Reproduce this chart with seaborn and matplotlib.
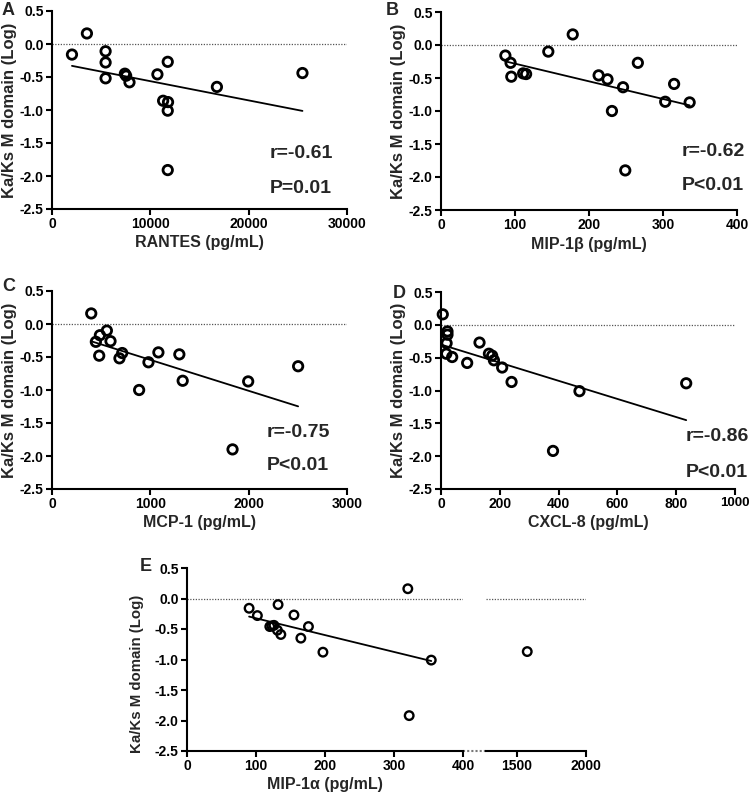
import numpy as np
import pandas as pd
import matplotlib
matplotlib.use("Agg")
import matplotlib.pyplot as plt
import seaborn as sns

# values (x in pg/mL, y = log Ka/Ks of M domain)
rantes = [2030, 3550, 5450, 5450, 5450, 7410, 7540, 7880, 10720, 11770, 11300, 11800, 11770, 11770, 16770, 25470]
rantes_kaks = [-0.16, 0.16, -0.11, -0.28, -0.52, -0.45, -0.48, -0.58, -0.46, -0.27, -0.86, -0.88, -1.01, -1.91, -0.65, -0.44]

mip1b = [87, 94, 95, 111, 115, 145, 178, 213, 225, 246, 266, 303, 315, 336, 231, 249]
mip1b_kaks = [-0.16, -0.27, -0.48, -0.43, -0.44, -0.10, 0.16, -0.46, -0.52, -0.64, -0.27, -0.86, -0.59, -0.87, -1.00, -1.90]

mcp1 = [399, 446, 487, 480, 558, 595, 686, 714, 981, 886, 1082, 1295, 1329, 1995, 2503, 1836]
mcp1_kaks = [0.16, -0.27, -0.17, -0.48, -0.10, -0.26, -0.52, -0.44, -0.58, -1.00, -0.43, -0.46, -0.86, -0.87, -0.64, -1.90]

cxcl8 = [6, 22, 22, 19, 18, 38, 89, 131, 163, 174, 180, 208, 240, 471, 834, 381]
cxcl8_kaks = [0.16, -0.10, -0.15, -0.28, -0.44, -0.49, -0.58, -0.27, -0.44, -0.47, -0.54, -0.65, -0.87, -1.01, -0.89, -1.92]

mip1a = [90, 102, 132, 155, 120, 123, 126, 131, 136, 165, 176, 197, 320, 322, 354, 1577]
mip1a_kaks = [-0.16, -0.28, -0.10, -0.27, -0.46, -0.45, -0.44, -0.52, -0.59, -0.65, -0.46, -0.88, 0.16, -1.92, -1.01, -0.87]

stats_text = {
    "A": ("r=-0.61", "P=0.01"),
    "B": ("r=-0.62", "P<0.01"),
    "C": ("r=-0.75", "P<0.01"),
    "D": ("r=-0.86", "P<0.01"),
    "E": ("r=-0.57", "P=0.02"),
}

sns.set_style("ticks")
plt.rcParams['font.family'] = ['Liberation Sans', 'DejaVu Sans']
plt.rcParams['font.weight'] = 'bold'
plt.rcParams['axes.labelweight'] = 'bold'
plt.rcParams['axes.linewidth'] = 1.5
plt.rcParams['xtick.major.width'] = 1.5
plt.rcParams['ytick.major.width'] = 1.5
plt.rcParams['xtick.major.size'] = 4.5
plt.rcParams['ytick.major.size'] = 4.5
plt.rcParams['xtick.major.pad'] = 1.5
plt.rcParams['ytick.major.pad'] = 1.5
plt.rcParams['xtick.labelsize'] = 10
plt.rcParams['ytick.labelsize'] = 10
plt.rcParams['xtick.color'] = 'black'
plt.rcParams['ytick.color'] = 'black'
plt.rcParams['axes.edgecolor'] = 'black'

W, H = 750, 797
fig = plt.figure(figsize=(7.5, 7.97), dpi=100)


def px_axes(x0, x1, y0, y1):
    # axes box given in pixel coords of the reference (y measured from top)
    return fig.add_axes([x0 / W, 1 - y1 / H, (x1 - x0) / W, (y1 - y0) / H])


yticks = [0.5, 0.0, -0.5, -1.0, -1.5, -2.0, -2.5]


def style_y(ax, size=12):
    ax.set_ylim(-2.5, 0.5)
    ax.set_yticks(yticks)
    ax.set_yticklabels([f"{t:.1f}" for t in yticks])
    ax.set_ylabel("Ka/Ks M domain (Log)", fontsize=size, labelpad=2)


def draw_panel(ax, x, y, xlabel, xlim, xticks, s=46, lw=2.0):
    df = pd.DataFrame({"x": x, "y": y})
    ax.axhline(0, color='#555555', linestyle=(0, (1, 1.2)), linewidth=0.9, zorder=1)
    sns.regplot(data=df, x="x", y="y", ax=ax, scatter=False, ci=None,
                truncate=True, line_kws={"color": "black", "linewidth": 1.3})
    sns.scatterplot(data=df, x="x", y="y", ax=ax, s=s, facecolor='none',
                    edgecolor='black', linewidth=lw, zorder=3, clip_on=False)
    ax.set_xlim(*xlim)
    ax.set_xticks(xticks)
    ax.set_xlabel(xlabel, fontsize=11.5, labelpad=3)
    style_y(ax)
    sns.despine(ax=ax)


def add_stats(ax, key, xf, yr, yp):
    r, p = stats_text[key]
    ax.text(xf, yr, r, transform=ax.transAxes, fontsize=14, ha='left', va='center')
    ax.text(xf, yp, p, transform=ax.transAxes, fontsize=14, ha='left', va='center')


axA = px_axes(52, 347, 11, 209)
draw_panel(axA, rantes, rantes_kaks, "RANTES (pg/mL)", (0, 30000), [0, 10000, 20000, 30000])
add_stats(axA, "A", 0.739, 0.278, 0.106)

axB = px_axes(441, 737, 12, 210)
draw_panel(axB, mip1b, mip1b_kaks, "MIP-1β (pg/mL)", (0, 400), [0, 100, 200, 300, 400])
add_stats(axB, "B", 0.813, 0.294, 0.126)

axC = px_axes(52, 347, 291, 489)
draw_panel(axC, mcp1, mcp1_kaks, "MCP-1 (pg/mL)", (0, 3000), [0, 1000, 2000, 3000])
add_stats(axC, "C", 0.729, 0.286, 0.118)

axD = px_axes(441, 735, 292, 489)
draw_panel(axD, cxcl8, cxcl8_kaks, "CXCL-8 (pg/mL)", (0, 1000), [0, 200, 400, 600, 800, 1000])
add_stats(axD, "D", 0.833, 0.265, 0.085)
axD.get_xticklabels()[-1].set_fontsize(9.5)

# panel E: broken x axis (0-400 | 1280-2000)
axE = px_axes(187, 463, 568, 751)
axE2 = px_axes(486, 586, 568, 751)
dfE = pd.DataFrame({"x": mip1a, "y": mip1a_kaks})
left_pts = dfE[dfE["x"] <= 400]
right_pts = dfE[dfE["x"] > 400]

axE.axhline(0, color='#555555', linestyle=(0, (1, 1.2)), linewidth=0.9, zorder=1)
sns.regplot(data=left_pts, x="x", y="y", ax=axE, scatter=False, ci=None,
            truncate=True, line_kws={"color": "black", "linewidth": 1.3})
sns.scatterplot(data=left_pts, x="x", y="y", ax=axE, s=38, facecolor='none',
                edgecolor='black', linewidth=1.7, zorder=3)
axE.set_xlim(0, 400)
axE.set_xticks([0, 100, 200, 300, 400])
axE.set_xlabel("MIP-1α (pg/mL)", fontsize=11.5, labelpad=3)
style_y(axE, size=10.8)
axE.yaxis.set_label_coords(-0.155, 0.42)
sns.despine(ax=axE)

axE2.axhline(0, color='#555555', linestyle=(0, (1, 1.2)), linewidth=0.9, zorder=1)
sns.scatterplot(data=right_pts, x="x", y="y", ax=axE2, s=38, facecolor='none',
                edgecolor='black', linewidth=1.7, zorder=3)
axE2.set_xlim(1280, 2000)
axE2.set_xticks([1500, 2000])
axE2.set_ylim(-2.5, 0.5)
axE2.set_yticks([])
axE2.set_xlabel("")
axE2.set_ylabel("")
sns.despine(ax=axE2, left=True)

# dotted gap between the two x-axis segments
gap_end = (486 - 187) / (463 - 187)
axE.plot([1.0, gap_end], [0, 0], transform=axE.transAxes, clip_on=False,
         color='#777777', linestyle=(0, (1, 1)), linewidth=1.5)
add_stats(axE, "E", 1.109, 0.306, 0.111)

# panel letters
for letter, (lx, ly) in {"A": (2, 2), "B": (386, 2), "C": (2, 278), "D": (393, 285), "E": (140, 558)}.items():
    fig.text(lx / W, 1 - ly / H, letter, fontsize=13, ha='left', va='top')

fig.savefig("out.png", dpi=100)
